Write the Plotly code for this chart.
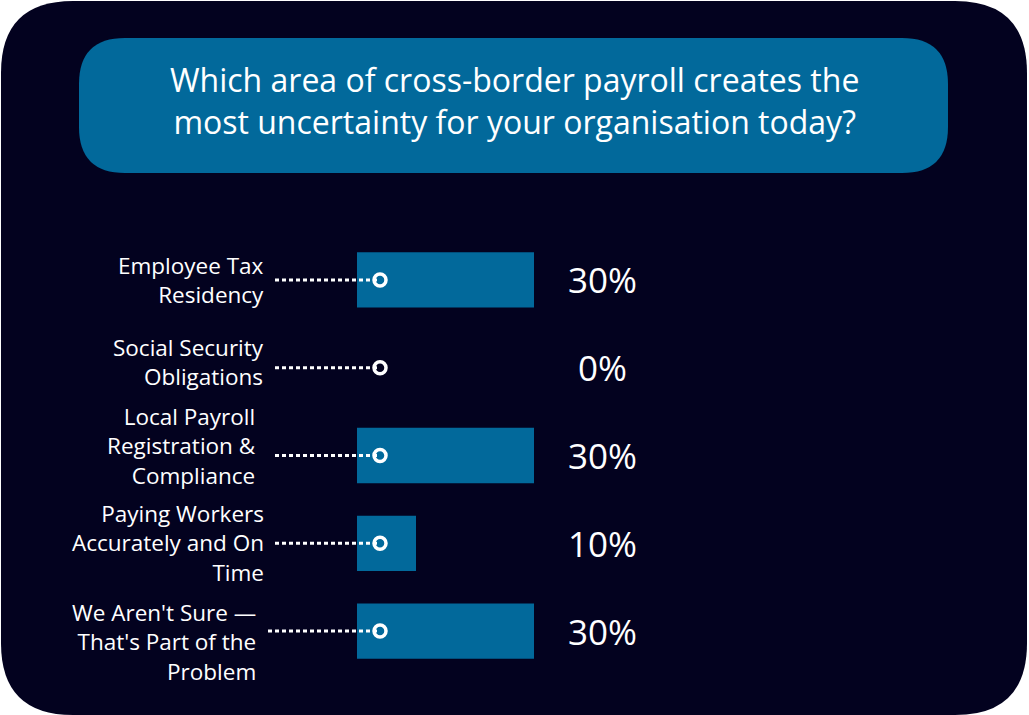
import plotly.graph_objects as go

W, H = 1029, 715

categories = [
    "Employee Tax<br>Residency",
    "Social Security<br>Obligations",
    "Local Payroll<br>Registration &<br>Compliance",
    "Paying Workers<br>Accurately and On<br>Time",
    "We Aren't Sure —<br>That's Part of the<br>Problem",
]
values = [30, 0, 30, 10, 30]
value_labels = ["30%", "0%", "30%", "10%", "30%"]
title_text = "Which area of cross-border payroll creates the<br>most uncertainty for your organisation today?"

# style-only per-row tweaks (pixels)
label_right = [266, 266, 258, 266, 258]
label_yshift = [0, 6, 10, 0, -11]
line_start_px = [275, 275, 275, 275, 268]

BG = "#03021f"
BLUE = "#02699b"
FONT = "Open Sans"


def px(x):
    return x / W


def py(y):
    return 1 - y / H


def rounded_rect(x0, y0, x1, y1, r):
    pts = [
        ("M", [(x0 + r, y0)]),
        ("L", [(x1 - r, y0)]),
        ("Q", [(x1, y0), (x1, y0 + r)]),
        ("L", [(x1, y1 - r)]),
        ("Q", [(x1, y1), (x1 - r, y1)]),
        ("L", [(x0 + r, y1)]),
        ("Q", [(x0, y1), (x0, y1 - r)]),
        ("L", [(x0, y0 + r)]),
        ("Q", [(x0, y0), (x0 + r, y0)]),
    ]
    s = ""
    for cmd, ps in pts:
        s += cmd + " " + " ".join(f"{px(a):.5f},{py(b):.5f}" for a, b in ps) + " "
    return s + "Z"


# x axis: 1% = 5.9px, bars start at pixel 357
unit = 5.9
bar0 = 357
xmin, xmax = -16, 84
dom_x0 = bar0 + xmin * unit
dom_x1 = bar0 + xmax * unit

row_top, row_bot = 236, 675
marker_x = 3.9

fig = go.Figure()

fig.add_trace(go.Bar(
    x=values, y=categories, orientation="h",
    marker=dict(color=BLUE, line=dict(width=0)),
    width=0.63, hoverinfo="skip", showlegend=False,
))

for c, lp in zip(categories, line_start_px):
    fig.add_trace(go.Scatter(
        x=[(lp - bar0) / unit, marker_x], y=[c, c], mode="lines",
        line=dict(color="white", width=3, dash="4px,3px"),
        hoverinfo="skip", showlegend=False,
    ))

fig.add_trace(go.Scatter(
    x=[marker_x] * len(categories), y=categories, mode="markers",
    marker=dict(symbol="circle-open", size=12, color="white", line=dict(width=3.5, color="white")),
    hoverinfo="skip", showlegend=False, cliponaxis=False,
))

annotations = []
for c, xr, ys in zip(categories, label_right, label_yshift):
    annotations.append(dict(
        x=px(xr), xref="paper", y=c, yref="y", text=c, showarrow=False,
        xanchor="right", yanchor="middle", align="right", yshift=ys,
        font=dict(family=FONT, size=22.5, color="white"),
    ))
for c, lab in zip(categories, value_labels):
    annotations.append(dict(
        x=px(602), xref="paper", y=c, yref="y", text=lab, showarrow=False,
        xanchor="center", yanchor="middle",
        font=dict(family=FONT, size=35, color="white"),
    ))
annotations.append(dict(
    x=px(514), xref="paper", y=py(100), yref="paper", text=title_text, showarrow=False,
    xanchor="center", yanchor="middle", align="center",
    font=dict(family=FONT, size=32, color="white"),
))

fig.update_layout(
    width=W, height=H,
    margin=dict(l=0, r=0, t=0, b=0),
    paper_bgcolor="white",
    plot_bgcolor="rgba(0,0,0,0)",
    xaxis=dict(domain=[px(dom_x0), px(dom_x1)], range=[xmin, xmax], visible=False, fixedrange=True),
    yaxis=dict(domain=[py(row_bot), py(row_top)], autorange="reversed", visible=False,
               type="category", fixedrange=True),
    shapes=[
        dict(type="path", path=rounded_rect(1, 1, 1027, 715, 72), xref="paper", yref="paper",
             fillcolor=BG, line=dict(width=0), layer="below"),
        dict(type="path", path=rounded_rect(79, 38, 948, 173, 46), xref="paper", yref="paper",
             fillcolor=BLUE, line=dict(width=0), layer="below"),
    ],
    annotations=annotations,
    bargap=0.3,
)

fig.write_html("out.html")
